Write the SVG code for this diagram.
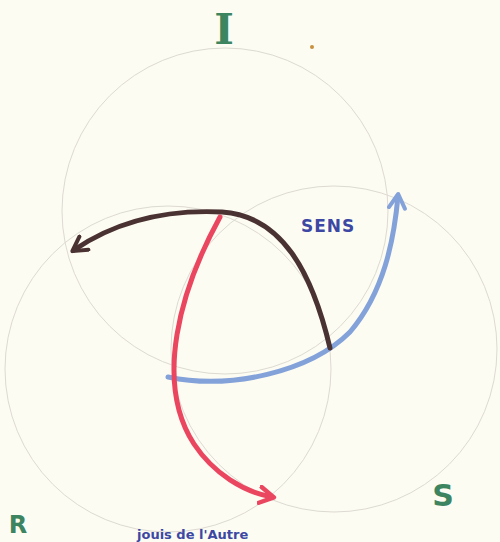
<svg xmlns="http://www.w3.org/2000/svg" width="500" height="542" viewBox="0 0 500 542">
<defs>
<style>
.ring{fill:none;stroke:#dcdad2;stroke-width:1}
.arc{fill:none;stroke-width:5;stroke-linecap:round;stroke-linejoin:round}
.lbl{font-family:"DejaVu Sans",sans-serif;fill:#3d8560;font-weight:bold}
.serif{font-family:"DejaVu Serif",serif;font-weight:bold}
.txt{font-family:"DejaVu Sans",sans-serif;fill:#3c48a3;font-weight:bold}
</style>
<marker id="hBrown" viewBox="0 0 10 10" refX="7" refY="5" markerWidth="4" markerHeight="4" orient="auto" markerUnits="strokeWidth"><path d="M1,1 L8,5 L1,9" fill="none" stroke="#4a3232" stroke-width="2" stroke-linecap="round" stroke-linejoin="round"/></marker>
<marker id="hRed" viewBox="0 0 10 10" refX="7" refY="5" markerWidth="4" markerHeight="4" orient="auto" markerUnits="strokeWidth"><path d="M1,1 L8,5 L1,9" fill="none" stroke="#ea4660" stroke-width="2.2" stroke-linecap="round" stroke-linejoin="round"/></marker>
<marker id="hBlue" viewBox="0 0 10 10" refX="7" refY="5" markerWidth="4" markerHeight="4" orient="auto" markerUnits="strokeWidth"><path d="M1,1 L8,5 L1,9" fill="none" stroke="#84a2da" stroke-width="2" stroke-linecap="round" stroke-linejoin="round"/></marker>
</defs>
<rect width="500" height="542" fill="#fdfcf2"/>
<g id="circles">
<circle id="circle-I" class="ring" cx="225" cy="211" r="163"/>
<circle id="circle-R" class="ring" cx="168" cy="369" r="163"/>
<circle id="circle-S" class="ring" cx="334" cy="349" r="163"/>
</g>
<g id="connectors">
<path id="arrow-blue" class="arc" stroke="#84a2da" d="M168,377 C230,390 310,372 350,332 C384,292 394,240 398,196" marker-end="url(#hBlue)"/>
<path id="arrow-brown" class="arc" stroke="#4a3232" d="M330,348 C312,272 282,216 222,212 C160,209 112,224 74,250" marker-end="url(#hBrown)"/>
<path id="arrow-red" class="arc" stroke="#ea4660" d="M220,217 C180,290 154,382 194,444 C214,474 244,492 272,497" marker-end="url(#hRed)"/>
</g>
<g id="label-I"><text class="lbl serif" x="224" y="44" text-anchor="middle" font-size="42">I</text></g>
<g id="label-R"><text class="lbl" x="18" y="533" text-anchor="middle" font-size="24">R</text></g>
<g id="label-S"><text class="lbl" x="443" y="506" text-anchor="middle" font-size="30">S</text></g>
<g id="label-sens"><text class="txt" x="301" y="232" font-size="17" letter-spacing="1">SENS</text></g>
<g id="label-bottom"><text class="txt" x="137" y="539" font-size="13">jouis de l'Autre</text></g>
<circle cx="312" cy="47" r="2" fill="#c89040"/>
</svg>
